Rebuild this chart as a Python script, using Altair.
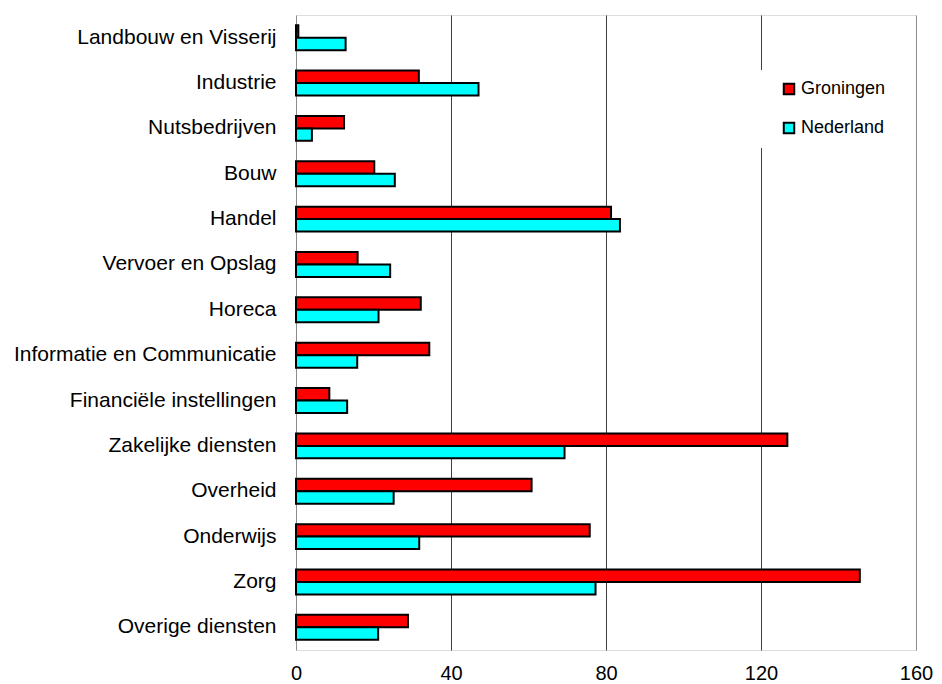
import altair as alt
import pandas as pd

categories = [
    "Landbouw en Visserij", "Industrie", "Nutsbedrijven", "Bouw", "Handel",
    "Vervoer en Opslag", "Horeca", "Informatie en Communicatie",
    "Financiële instellingen", "Zakelijke diensten", "Overheid",
    "Onderwijs", "Zorg", "Overige diensten",
]
groningen = [0.6, 31.7, 12.4, 20.2, 81.3, 15.9, 32.2, 34.4, 8.6, 126.8, 60.8, 75.8, 145.5, 28.9]
nederland = [12.8, 47.1, 4.1, 25.5, 83.6, 24.3, 21.3, 15.8, 13.2, 69.3, 25.2, 31.8, 77.3, 21.2]
series = ["Groningen", "Nederland"]
colors = ["#FF0000", "#00FFFF"]
x_ticks = [0, 40, 80, 120, 160]

rows = []
for c, g, n in zip(categories, groningen, nederland):
    rows.append({"sector": c, "regio": series[0], "waarde": g})
    rows.append({"sector": c, "regio": series[1], "waarde": n})
df = pd.DataFrame(rows)

FONT = "Liberation Sans"

chart = alt.Chart(df).mark_bar(stroke="black", strokeWidth=2).encode(
    x=alt.X("waarde:Q",
            scale=alt.Scale(domain=[0, 160], nice=False),
            axis=alt.Axis(values=x_ticks, title=None, ticks=False, domain=False,
                          labelPadding=13, labelFontSize=20, labelFont=FONT,
                          labelColor="black", labelFlush=False,
                          gridColor={"condition": {"test": "datum.value === 160 || datum.value === 0",
                                                   "value": "#8c8c8c"},
                                     "value": "#404040"},
                          gridWidth=1)),
    y=alt.Y("sector:N", sort=categories,
            scale=alt.Scale(paddingInner=0.45, paddingOuter=0.225),
            axis=alt.Axis(title=None, ticks=False, domain=False, labelPadding=20,
                          labelFontSize=21, labelFont=FONT, labelColor="black",
                          labelLimit=400)),
    yOffset=alt.YOffset("regio:N", sort=series),
    color=alt.Color("regio:N", sort=series,
                    scale=alt.Scale(domain=series, range=colors),
                    legend=alt.Legend(title=None, orient="none", legendX=462, legendY=55,
                                      fillColor="white", padding=10, symbolOffset=12,
                                      symbolType="square", symbolSize=110,
                                      symbolStrokeColor="black", symbolStrokeWidth=2,
                                      labelFontSize=18, labelFont=FONT, labelColor="black",
                                      labelOffset=3, rowPadding=19)),
).properties(
    width=620, height=635,
    padding={"left": 5, "top": 7, "right": 0, "bottom": 5},
).configure_view(
    stroke="#7f7f7f", strokeWidth=2
).configure(background="white")

chart.save("out.html", embed_options={"renderer": "svg", "actions": False})
